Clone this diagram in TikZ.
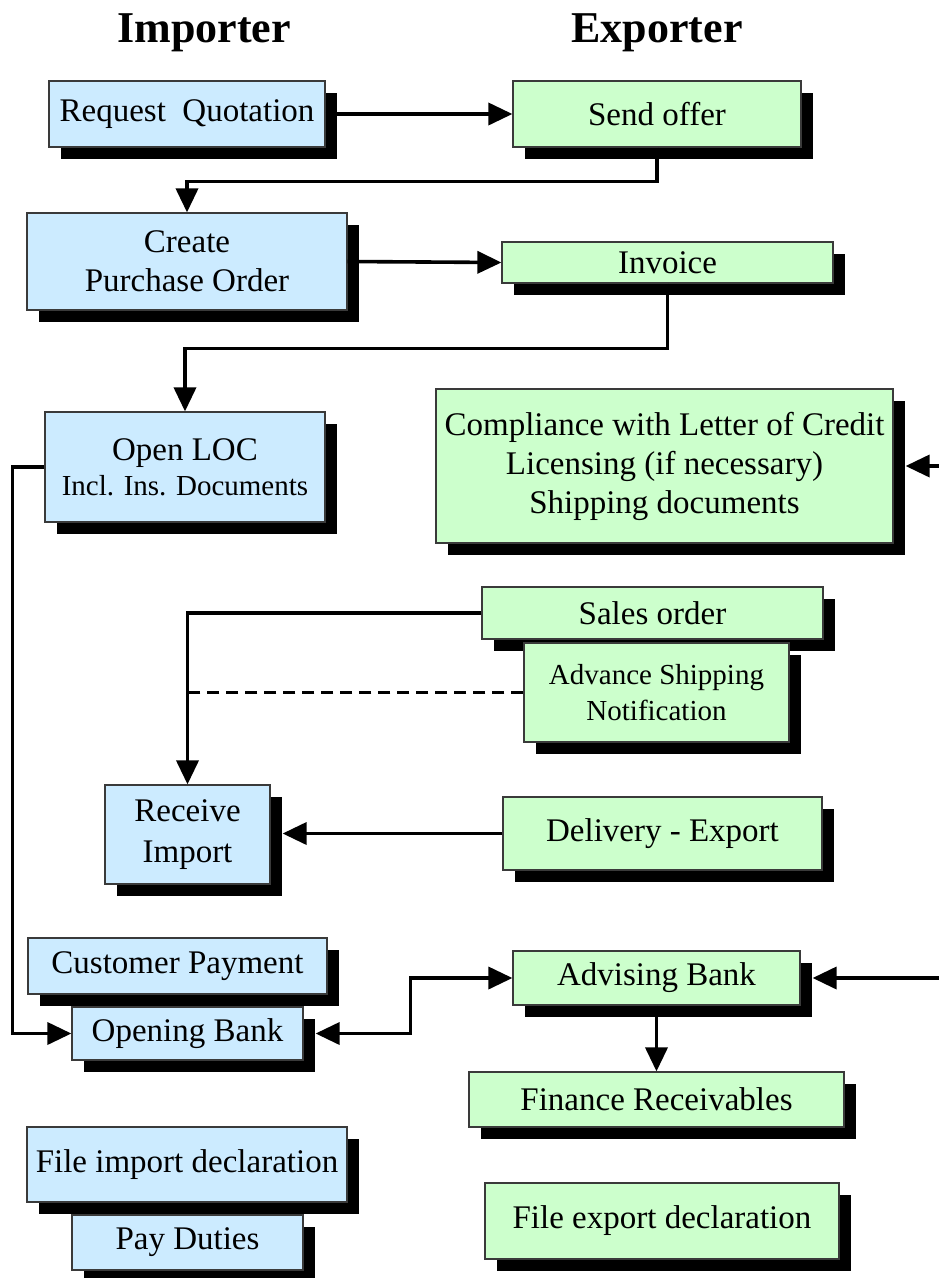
\documentclass[tikz,border=0pt]{standalone}
\usepackage{fontspec}
\setmainfont{Liberation Serif}
\usetikzlibrary{arrows.meta,shadows}
\definecolor{impblue}{HTML}{CCEBFF}
\definecolor{expgreen}{HTML}{CCFFCC}
\definecolor{boxline}{HTML}{3A3A3A}
\begin{document}
\begin{tikzpicture}[x=1pt,y=-1pt,
  box/.style={draw=boxline, line width=1.2pt, rectangle, inner sep=0pt, align=center,
    font=\fontsize{33}{39}\selectfont,
    drop shadow={shadow xshift=12pt, shadow yshift=-12pt, opacity=1, fill=black}},
  imp/.style={box, fill=impblue},
  expo/.style={box, fill=expgreen},
  conn/.style={line width=3.6pt, -{Triangle[length=24pt,width=22pt]}},
  plain/.style={line width=3.6pt},
  title/.style={font=\fontsize{44}{50}\selectfont\bfseries, anchor=base}]
\useasboundingbox (0,0) rectangle (938,1278);
\fill[white] (0,0) rectangle (938,1278);

\node[title] (timp) at (204,42) {Importer};
\node[title] (texp) at (657,42) {Exporter};

\node[imp, minimum width=276pt, minimum height=66pt] (rq) at (187,114) {Request\ \ Quotation};
\node[expo, minimum width=288pt, minimum height=66pt] (so) at (657,114) {Send offer};
\node[imp, minimum width=320pt, minimum height=97pt] (cpo) at (187,261.5) {Create\\Purchase Order};
\node[expo, minimum width=331pt, minimum height=41pt] (inv) at (667.5,262.5) {Invoice};
\node[imp, minimum width=280pt, minimum height=110pt] (loc) at (185,467) {Open LOC\\[-4pt]{\fontsize{29}{35}\selectfont Incl. Ins. Documents}};
\node[expo, minimum width=457pt, minimum height=154pt] (comp) at (664.5,466) {Compliance with Letter of Credit\\Licensing (if necessary)\\Shipping documents};
\node[expo, minimum width=341pt, minimum height=52pt] (sales) at (652.5,613) {Sales order};
\node[expo, minimum width=265pt, minimum height=99pt, font=\fontsize{29}{36}\selectfont] (asn) at (656.5,692.5) {Advance Shipping\\Notification};
\node[imp, minimum width=165pt, minimum height=99pt, font=\fontsize{33}{41}\selectfont] (ri) at (187.5,834.5) {Receive\\Import};
\node[expo, minimum width=319pt, minimum height=73pt] (del) at (662.5,833.5) {Delivery - Export};
\node[imp, minimum width=299pt, minimum height=56pt] (cp) at (177.5,966) {Customer Payment};
\node[imp, minimum width=231pt, minimum height=53pt] (ob) at (187.5,1033.5) {Opening Bank};
\node[expo, minimum width=287pt, minimum height=54pt] (ab) at (656.5,978) {Advising Bank};
\node[expo, minimum width=375pt, minimum height=55pt] (fr) at (656.5,1099.5) {Finance Receivables};
\node[imp, minimum width=320pt, minimum height=75pt] (fid) at (187,1164.5) {File import declaration};
\node[imp, minimum width=231pt, minimum height=55pt] (pd) at (187.5,1242.5) {Pay Duties};
\node[expo, minimum width=354pt, minimum height=76pt] (fed) at (662,1221) {File export declaration};

\coordinate (r1) at (942,466);
\coordinate (r2) at (942,978);

\draw[conn] (rq.east) -- (so.west);
\draw[conn] (so.south) -- ++(0,34) -| (cpo.north);
\draw[conn] (cpo.east) -- (inv.west);
\draw[conn] (inv.south) -- ++(0,65) -| (loc.north);
\draw[conn] (loc.west) -- ++(-32,0) |- (ob.west);
\draw[conn, shorten >=12pt] (r1) -- (comp.east);
\draw[conn] (sales.west) -| (ri.north);
\draw[plain, dash pattern=on 12pt off 7pt] (asn.west) -- (asn.west -| ri.north);
\draw[conn, shorten >=12pt] (del.west) -- (del.west -| ri.east);
\draw[line width=3.6pt, {Triangle[length=24pt,width=22pt]}-{Triangle[length=24pt,width=22pt]}, shorten <=12pt] (ob.east) -- ++(107,0) |- (ab.west);
\draw[conn, shorten >=12pt] (r2) -- (ab.east);
\draw[conn] (ab.south) -- (fr.north);
\end{tikzpicture}
\end{document}
